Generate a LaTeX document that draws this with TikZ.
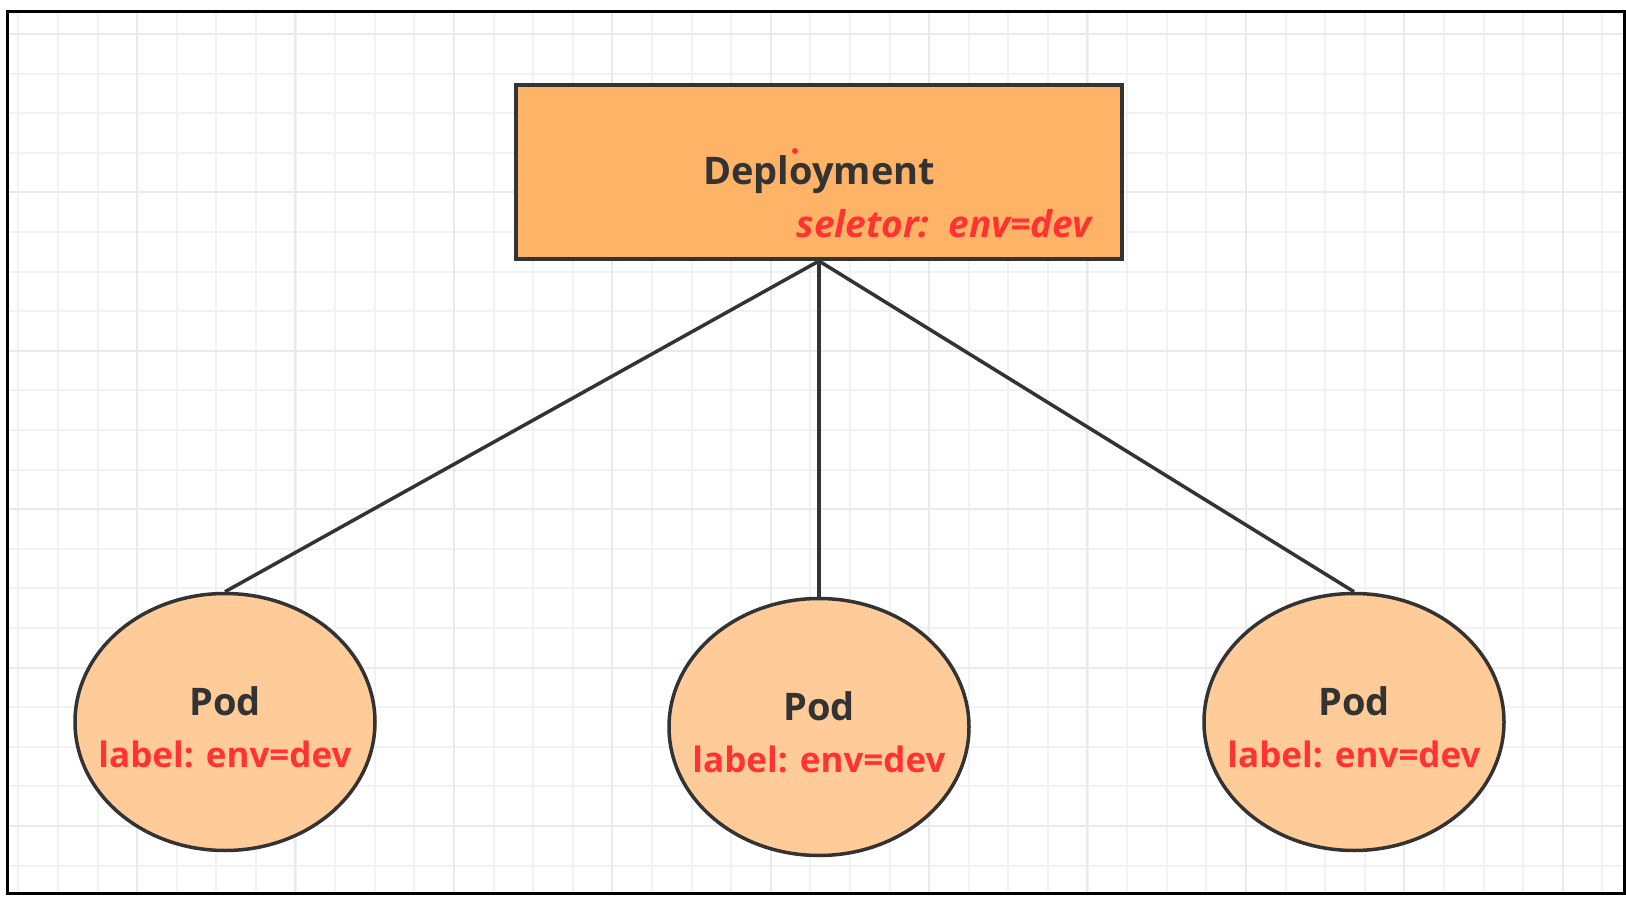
\documentclass[tikz,border=0pt]{standalone}
\usepackage{fontspec}
\setmainfont{Open Sans}
\usetikzlibrary{shapes.geometric,positioning}
\definecolor{deporange}{HTML}{FFB366}
\definecolor{podorange}{HTML}{FFCC99}
\definecolor{edgegray}{HTML}{333333}
\definecolor{labelred}{HTML}{FF3333}
\definecolor{gridminor}{HTML}{F2F2F2}
\definecolor{gridmajor}{HTML}{EAEAEA}

\begin{document}
\begin{tikzpicture}[
		x=1pt, y=-1pt,
		deploybox/.style={rectangle, draw=edgegray, line width=4pt, fill=deporange, minimum width=606pt, minimum height=174pt},
		podnode/.style={ellipse, draw=edgegray, line width=3.5pt, fill=podorange, minimum width=300pt, minimum height=257pt},
		titletext/.style={text=edgegray, font=\fontsize{38}{44}\selectfont\bfseries, inner sep=0pt},
		podtag/.style={text=labelred, font=\fontsize{35}{40}\selectfont\bfseries, inner sep=0pt},
		seltag/.style={text=labelred, font=\fontsize{37}{42}\selectfont\bfseries\itshape, inner sep=0pt},
		link/.style={draw=edgegray, line width=3.5pt}
		]
		\useasboundingbox (0,0) rectangle (1626,901);
		\fill[white] (0,0) rectangle (1626,901);
		\foreach \gx in {0,...,40}
			\draw[gridminor, line width=2pt] ({18.3+39.6*\gx},12) -- ++(0,881);
		\foreach \gy in {0,...,21}
			\draw[gridminor, line width=2pt] (7,{34+39.6*\gy}) -- ++(1617,0);
		\foreach \gx in {0,...,9}
			\draw[gridmajor, line width=2pt] ({137+158.4*\gx},12) -- ++(0,881);
		\foreach \gy in {0,...,5}
			\draw[gridmajor, line width=2pt] (7,{34+158.4*\gy}) -- ++(1617,0);
		\draw[black, line width=3pt] (7,12) rectangle (1624,893);
		
		\node[deploybox] (dep) at (819,172) {};
		\node[titletext, anchor=base] (depname) at (819,185) {Deployment};
		\node[seltag, anchor=base east] (depsel) at (1092,238) {seletor:\ \ env=dev};
		\fill[labelred] (795,151) circle (3);
		
		\node[podnode] (pod1) at (225,722) {};
		\node[podnode] (pod2) at (819,727) {};
		\node[podnode] (pod3) at (1354,722) {};
		
		\node[titletext, anchor=base] (pod1name) at (225,715) {Pod};
		\node[podtag, anchor=base] (pod1lab) at (225,767) {label: env=dev};
		\node[titletext, anchor=base] (pod2name) at (819,720) {Pod};
		\node[podtag, anchor=base] (pod2lab) at (819,772) {label: env=dev};
		\node[titletext, anchor=base] (pod3name) at (1354,715) {Pod};
		\node[podtag, anchor=base] (pod3lab) at (1354,767) {label: env=dev};
		
		\draw[link] (dep.south) -- (pod1.north);
		\draw[link] (dep.south) -- (pod2.north);
		\draw[link] (dep.south) -- (pod3.north);
	\end{tikzpicture}
\end{document}
